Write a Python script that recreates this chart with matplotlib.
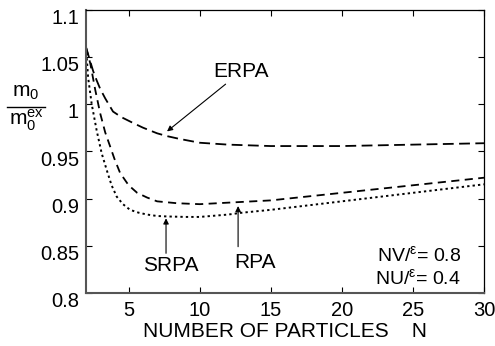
import matplotlib
matplotlib.use("Agg")
import matplotlib.pyplot as plt
from matplotlib.transforms import ScaledTranslation

plt.rcParams['font.family'] = ['Liberation Sans', 'DejaVu Sans']
plt.rcParams['mathtext.fontset'] = 'custom'
plt.rcParams['mathtext.rm'] = 'Liberation Sans'
plt.rcParams['mathtext.it'] = 'Liberation Sans'

# Data
N_erpa = [2, 2.5, 2.75, 3, 3.35, 3.9, 4.5, 5.3, 6, 7, 7.7, 8.6, 10, 12, 15, 20, 25, 30]
erpa = [1.06, 1.035, 1.025, 1.016, 1.006, 0.992, 0.986, 0.980, 0.975, 0.969, 0.966, 0.963, 0.959, 0.957, 0.9555, 0.9555, 0.957, 0.9585]

N_rpa = [2, 2.3, 2.65, 3, 3.35, 3.7, 4.0, 4.4, 5, 5.6, 6.3, 7, 8.4, 10, 12.5, 15, 20, 25, 30]
rpa = [1.06, 1.043, 1.015, 0.990, 0.970, 0.955, 0.942, 0.927, 0.914, 0.906, 0.901, 0.897, 0.895, 0.894, 0.896, 0.898, 0.906, 0.914, 0.922]

N_srpa = [2, 2.15, 2.4, 2.75, 3.1, 3.46, 3.8, 4.16, 4.6, 5.1, 5.7, 6.3, 7, 7.7, 9, 10, 12, 13, 15, 20, 25, 30]
srpa = [1.06, 1.028, 1.0, 0.972, 0.948, 0.930, 0.914, 0.902, 0.894, 0.888, 0.885, 0.883, 0.8815, 0.881, 0.8805, 0.8805, 0.883, 0.885, 0.888, 0.897, 0.906, 0.915]

xticks = [5, 10, 15, 20, 25, 30]
yticks = [0.8, 0.85, 0.9, 0.95, 1.0, 1.05, 1.1]
ytick_labels = ['0.8', '0.85', '0.9', '0.95', '1', '1.05', '1.1']

fig = plt.figure(figsize=(4.95, 3.46), dpi=100)
ax = fig.add_axes([86/495, 53/346, 398/495, 283.5/346])

ax.plot(N_erpa, erpa, color='black', lw=1.3, dashes=(6, 3))
ax.plot(N_rpa, rpa, color='black', lw=1.3, dashes=(4.5, 3))
ax.plot(N_srpa, srpa, color='black', lw=1.4, dashes=(1.2, 1.6))

ax.set_xlim(2, 30)
ax.set_ylim(0.8, 1.1)
ax.set_xticks(xticks)
ax.set_xticklabels([str(t) for t in xticks])
ax.set_yticks(yticks)
ax.set_yticklabels(ytick_labels)
ax.tick_params(direction='in', top=True, right=True, length=4, width=0.8,
               labelsize=14.5)
ax.tick_params(axis='x', pad=6)
ax.tick_params(axis='y', pad=5)
# labels sit slightly below their ticks in the reference
off = ScaledTranslation(0, -5/72, fig.dpi_scale_trans)
for lab in ax.get_yticklabels():
    lab.set_transform(lab.get_transform() + off)

for s in ['left', 'bottom']:
    ax.spines[s].set_color('#555555')
    ax.spines[s].set_linewidth(1.5)
for s in ['top', 'right']:
    ax.spines[s].set_color('black')
    ax.spines[s].set_linewidth(0.9)

ax.set_xlabel('NUMBER OF PARTICLES    N', fontsize=15, labelpad=1)

arrowprops = dict(arrowstyle='-|>', color='black', lw=0.8, mutation_scale=8,
                  shrinkA=0, shrinkB=0)
ax.annotate('ERPA', xy=(7.7, 0.971), xytext=(10.94, 1.034), fontsize=15,
            ha='left', va='center', arrowprops=arrowprops)
ax.annotate('', xy=(7.63, 0.879), xytext=(7.63, 0.842), arrowprops=arrowprops)
ax.text(7.95, 0.829, 'SRPA', fontsize=15, ha='center', va='center')
ax.annotate('', xy=(12.7, 0.892), xytext=(12.7, 0.849), arrowprops=arrowprops)
ax.text(13.9, 0.832, 'RPA', fontsize=15, ha='center', va='center')

ax.text(28.4, 0.840, r'NV/$^{\varepsilon}$= 0.8', fontsize=14, ha='right', va='center')
ax.text(28.4, 0.816, r'NU/$^{\varepsilon}$= 0.4', fontsize=14, ha='right', va='center')

# y label as a fraction
fig.text(26/495, 1 - 93/346, r'm$_0$', fontsize=15, ha='center', va='center')
fig.add_artist(plt.Line2D([7/495, 45/495], [1 - 107/346, 1 - 107/346],
                          color='black', lw=1.0, transform=fig.transFigure))
fig.text(26/495, 1 - 120/346, r'm$_0^{\mathrm{ex}}$', fontsize=15, ha='center', va='center')

fig.savefig('out.png', dpi=100)
